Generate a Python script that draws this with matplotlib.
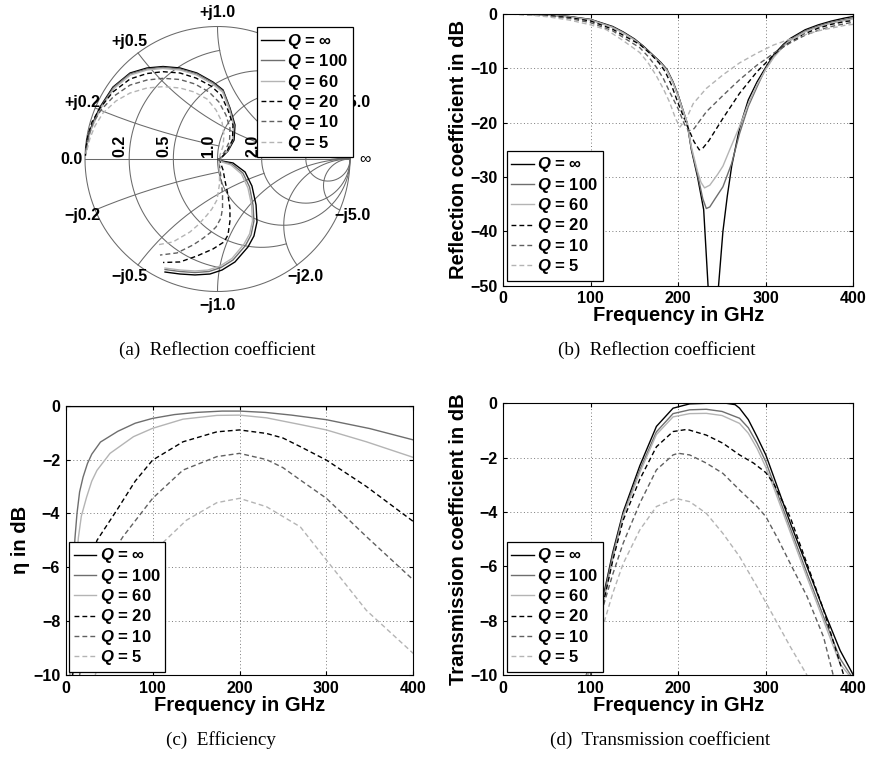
import numpy as np
import matplotlib
matplotlib.use('Agg')
import matplotlib.pyplot as plt

plt.rcParams['font.family'] = ['Liberation Sans', 'DejaVu Sans']
plt.rcParams['font.weight'] = 'bold'
plt.rcParams['axes.labelweight'] = 'bold'
plt.rcParams['mathtext.fontset'] = 'custom'
plt.rcParams['mathtext.it'] = 'Liberation Sans:italic:bold'
plt.rcParams['mathtext.rm'] = 'Liberation Sans:bold'
plt.rcParams['mathtext.bf'] = 'Liberation Sans:bold'

# legend entries, shared by all four panels
q_labels = [r'$Q$ = ∞', r'$Q$ = 100', r'$Q$ = 60', r'$Q$ = 20', r'$Q$ = 10', r'$Q$ = 5']
q_colors = ['#000000', '#6e6e6e', '#b4b4b4', '#000000', '#606060', '#b4b4b4']
q_dashed = [False, False, False, True, True, True]

# (a) reflection coefficient on the Smith chart (real / imaginary part of Gamma)
smith_re_inf = [-0.996, -0.985, -0.962, -0.925, -0.887, -0.789, -0.660, -0.532, -0.411, -0.283, -0.155,
                -0.034, 0.042, 0.094, 0.132, 0.125, 0.079, 0.034, 0.004, 0.034, 0.117, 0.208, 0.260,
                0.291, 0.298, 0.275, 0.230, 0.132, 0.034, -0.057, -0.170, -0.283, -0.396]
smith_im_inf = [0.030, 0.143, 0.219, 0.309, 0.392, 0.543, 0.649, 0.687, 0.698, 0.687, 0.649,
                0.581, 0.521, 0.385, 0.257, 0.143, 0.060, 0.015, -0.004, -0.015, -0.030, -0.098, -0.204,
                -0.347, -0.475, -0.581, -0.664, -0.777, -0.838, -0.868, -0.875, -0.868, -0.853]
smith_re_100 = [-0.995, -0.981, -0.958, -0.921, -0.883, -0.785, -0.660, -0.532, -0.411, -0.283, -0.155,
                -0.034, 0.042, 0.091, 0.125, 0.117, 0.075, 0.034, 0.008, 0.034, 0.109, 0.192, 0.242,
                0.268, 0.275, 0.253, 0.211, 0.117, 0.026, -0.064, -0.170, -0.283, -0.396]
smith_im_100 = [0.045, 0.143, 0.219, 0.309, 0.389, 0.540, 0.642, 0.679, 0.691, 0.679, 0.642,
                0.574, 0.513, 0.385, 0.257, 0.143, 0.060, 0.015, -0.004, -0.019, -0.038, -0.106, -0.211,
                -0.347, -0.468, -0.574, -0.653, -0.762, -0.819, -0.849, -0.857, -0.849, -0.834]
smith_re_60 = [-0.992, -0.977, -0.955, -0.917, -0.879, -0.781, -0.657, -0.532, -0.411, -0.283, -0.158,
               -0.038, 0.038, 0.087, 0.121, 0.113, 0.072, 0.034, 0.011, 0.034, 0.102, 0.181, 0.230,
               0.257, 0.264, 0.242, 0.200, 0.109, 0.019, -0.072, -0.170, -0.283, -0.396]
smith_im_60 = [0.045, 0.143, 0.219, 0.306, 0.385, 0.532, 0.634, 0.672, 0.683, 0.672, 0.634,
               0.566, 0.506, 0.381, 0.257, 0.143, 0.060, 0.015, -0.004, -0.023, -0.045, -0.113, -0.219,
               -0.347, -0.468, -0.566, -0.642, -0.751, -0.808, -0.838, -0.845, -0.838, -0.823]
smith_re_20 = [-0.992, -0.977, -0.947, -0.887, -0.789, -0.660, -0.532, -0.411, -0.283, -0.162, -0.049,
               0.026, 0.079, 0.117, 0.113, 0.072, 0.034, 0.011, 0.026, 0.042, 0.057, 0.079, 0.094,
               0.094, 0.079, 0.049, -0.034, -0.155, -0.283, -0.411]
smith_im_20 = [0.083, 0.181, 0.279, 0.385, 0.506, 0.604, 0.645, 0.659, 0.649, 0.611, 0.551,
               0.483, 0.370, 0.257, 0.143, 0.060, 0.015, -0.004, -0.038, -0.083, -0.166, -0.272, -0.370,
               -0.468, -0.574, -0.626, -0.679, -0.732, -0.777, -0.781]
smith_re_10 = [-0.989, -0.970, -0.940, -0.879, -0.781, -0.660, -0.532, -0.411, -0.283, -0.170, -0.064,
               0.011, 0.064, 0.094, 0.091, 0.057, 0.026, 0.011, 0.011, 0.019, 0.030, 0.038, 0.038,
               0.026, -0.011, -0.057, -0.117, -0.185, -0.306, -0.434]
smith_im_10 = [0.068, 0.181, 0.272, 0.370, 0.475, 0.558, 0.596, 0.609, 0.600, 0.566, 0.506,
               0.430, 0.332, 0.234, 0.136, 0.060, 0.015, -0.004, -0.015, -0.083, -0.174, -0.272, -0.370,
               -0.445, -0.513, -0.558, -0.604, -0.649, -0.709, -0.725]
smith_re_5 = [-0.985, -0.962, -0.925, -0.864, -0.766, -0.660, -0.532, -0.411, -0.283, -0.177, -0.079,
              -0.011, 0.034, 0.049, 0.042, 0.019, 0.011, 0.011, 0.015, 0.015, -0.004, -0.042, -0.079,
              -0.147, -0.208, -0.336, -0.457]
smith_im_5 = [0.068, 0.158, 0.249, 0.347, 0.438, 0.498, 0.536, 0.546, 0.536, 0.506, 0.453,
              0.370, 0.279, 0.181, 0.098, 0.030, 0.000, -0.023, -0.098, -0.189, -0.309, -0.377, -0.423,
              -0.498, -0.551, -0.626, -0.649]

# (b) reflection coefficient in dB
refl_f_inf = [0, 25, 50, 75, 100, 125, 137, 150, 160, 170, 180, 187, 194, 200, 205, 210, 215, 222, 229,
              234, 237, 243, 246, 251, 256, 261, 270, 280, 290, 300, 309, 320, 328, 345, 360, 375, 390, 400]
refl_db_inf = [0, -0.05, -0.15, -0.45, -1.0, -2.3, -3.3, -4.6, -5.9, -7.4, -8.9, -10.2, -12.5, -15.0, -17.5,
               -20.0, -25.0, -30.0, -36.0, -50.0, -62.0, -62.0, -50.0, -40.0, -33.5, -28.0, -21.0, -15.8,
               -12.5, -9.8, -7.5, -5.6, -4.5, -2.9, -2.0, -1.3, -0.75, -0.45]
refl_f_100 = [0, 25, 50, 75, 100, 125, 137, 150, 160, 170, 180, 187, 194, 200, 205, 210, 215, 222, 228,
              232, 236, 242, 251, 261, 270, 280, 290, 299, 309, 320, 328, 345, 360, 375, 390, 400]
refl_db_100 = [0, -0.05, -0.17, -0.5, -1.05, -2.4, -3.4, -4.7, -6.0, -7.5, -9.0, -10.3, -12.6, -15.1, -17.6,
               -20.0, -24.8, -29.5, -34.0, -35.8, -35.5, -34.0, -31.8, -27.5, -22.0, -17.0, -13.4, -10.3,
               -7.8, -5.8, -4.7, -3.1, -2.2, -1.5, -1.0, -0.7]
refl_f_60 = [0, 25, 50, 75, 100, 125, 137, 150, 160, 170, 180, 187, 194, 200, 205, 210, 215, 222, 226,
             230, 236, 245, 251, 260, 270, 280, 290, 300, 309, 320, 328, 345, 360, 375, 390, 400]
refl_db_60 = [0, -0.06, -0.2, -0.55, -1.1, -2.5, -3.5, -4.8, -6.1, -7.6, -9.1, -10.4, -12.7, -15.2, -17.6,
              -20.0, -24.5, -29.0, -31.0, -32.0, -31.5, -29.5, -28.0, -24.5, -20.7, -16.5, -13.0, -10.2,
              -8.0, -6.0, -4.9, -3.3, -2.4, -1.7, -1.2, -0.9]
refl_f_20 = [0, 25, 50, 75, 100, 125, 137, 156, 168, 178, 185, 192, 200, 210, 218, 224, 228, 235, 251,
             270, 290, 300, 309, 320, 328, 345, 360, 375, 390, 400]
refl_db_20 = [0, -0.08, -0.25, -0.65, -1.3, -2.8, -3.9, -5.6, -7.3, -9.0, -10.6, -13.0, -16.5, -20.5, -23.5,
              -25.0, -24.7, -23.3, -19.2, -14.6, -10.6, -9.0, -7.5, -6.0, -5.2, -3.6, -2.6, -1.9, -1.4, -1.2]
refl_f_10 = [0, 25, 50, 75, 100, 125, 137, 156, 166, 175, 183, 190, 200, 207, 212, 218, 232, 251, 270,
             290, 300, 309, 328, 345, 360, 375, 390, 400]
refl_db_10 = [0, -0.1, -0.35, -0.8, -1.6, -3.1, -4.3, -6.2, -7.9, -9.8, -11.9, -14.3, -17.5, -20.3, -21.5,
              -21.1, -18.0, -15.0, -12.1, -9.4, -8.3, -7.2, -5.3, -3.9, -3.0, -2.3, -1.8, -1.5]
refl_f_5 = [0, 25, 50, 75, 100, 118, 137, 156, 166, 175, 183, 190, 197, 202, 210, 217, 232, 251, 270,
            290, 309, 328, 345, 360, 375, 390, 400]
refl_db_5 = [0, -0.12, -0.5, -1.1, -2.0, -2.9, -4.9, -7.1, -9.1, -11.4, -13.8, -16.2, -19.3, -20.8, -19.0,
             -16.5, -13.7, -11.2, -9.0, -7.2, -5.7, -4.6, -3.8, -3.1, -2.6, -2.1, -1.9]

# (c) efficiency in dB
eff_f_inf = [0, 400]
eff_db_inf = [0, 0]
eff_f_100 = [5, 7, 9, 10.7, 13, 16, 20, 25, 30, 40, 60, 80, 100, 125, 150, 180, 200, 230, 260, 300, 350, 400]
eff_db_100 = [-10, -7.3, -5.7, -4.9, -4.0, -3.2, -2.65, -2.15, -1.8, -1.35, -0.95, -0.65, -0.47, -0.33,
              -0.25, -0.2, -0.2, -0.25, -0.35, -0.52, -0.85, -1.27]
eff_f_60 = [5.8, 7.5, 9.6, 12, 14.6, 18, 24, 30, 36, 51, 78, 100, 135, 174, 200, 231, 270, 300, 346, 400]
eff_db_60 = [-10, -8.5, -7.3, -5.9, -4.9, -4.1, -3.4, -2.8, -2.4, -1.77, -1.15, -0.84, -0.5, -0.36, -0.35,
             -0.45, -0.7, -0.9, -1.34, -1.92]
eff_f_20 = [8, 15, 25, 36, 59, 80, 100, 135, 174, 200, 231, 250, 270, 300, 346, 400]
eff_db_20 = [-10, -8.0, -6.2, -5.0, -3.87, -2.8, -2.02, -1.34, -0.97, -0.9, -1.03, -1.2, -1.52, -2.02, -3.0, -4.3]
eff_f_10 = [16, 30, 45, 66, 100, 135, 174, 200, 231, 250, 270, 300, 346, 400]
eff_db_10 = [-10, -7.5, -5.9, -4.86, -3.44, -2.39, -1.89, -1.77, -2.0, -2.3, -2.76, -3.44, -4.86, -6.47]
eff_f_5 = [34, 50, 75, 100, 113, 139, 174, 200, 231, 270, 300, 346, 400]
eff_db_5 = [-10, -8.3, -6.6, -5.5, -5.05, -4.25, -3.6, -3.44, -3.75, -4.5, -5.73, -7.6, -9.2]

# (d) transmission coefficient in dB
trans_f_inf = [95, 105, 115, 125, 137, 156, 175, 194, 213, 232, 255, 265, 270, 280, 290, 300, 309, 328,
               347, 366, 385, 400]
trans_db_inf = [-10, -8.6, -7.0, -5.5, -4.0, -2.3, -0.85, -0.18, -0.02, 0, 0, -0.05, -0.18, -0.6, -1.23,
                -1.9, -2.7, -4.4, -6.0, -7.6, -9.1, -10]
trans_f_100 = [95, 105, 115, 125, 137, 156, 175, 194, 213, 232, 250, 270, 280, 290, 300, 309, 328, 347,
               366, 385, 397]
trans_db_100 = [-10, -8.7, -7.1, -5.6, -4.1, -2.45, -1.05, -0.38, -0.24, -0.22, -0.3, -0.55, -0.9, -1.47,
                -2.15, -2.94, -4.6, -6.25, -7.85, -9.4, -10]
trans_f_60 = [96, 106, 116, 126, 137, 156, 175, 194, 213, 232, 250, 270, 280, 290, 300, 309, 328, 347,
              366, 385, 395]
trans_db_60 = [-10, -8.7, -7.1, -5.6, -4.15, -2.55, -1.15, -0.5, -0.38, -0.37, -0.45, -0.74, -1.1, -1.66,
               -2.35, -3.1, -4.75, -6.4, -8.0, -9.6, -10]
trans_f_20 = [100, 114, 125, 137, 156, 175, 194, 210, 232, 251, 270, 286, 300, 309, 328, 347, 366, 379, 389]
trans_db_20 = [-10, -7.4, -5.8, -4.3, -2.8, -1.6, -1.04, -0.96, -1.17, -1.47, -1.9, -2.2, -2.55, -2.95,
               -4.2, -5.9, -7.6, -8.96, -10]
trans_f_10 = [100, 113, 125, 137, 156, 175, 194, 200, 213, 232, 251, 270, 290, 300, 314, 328, 347, 366, 377]
trans_db_10 = [-10, -7.6, -6.3, -5.15, -3.68, -2.45, -1.9, -1.84, -1.9, -2.2, -2.58, -3.19, -3.8, -4.17,
               -5.0, -5.9, -7.1, -8.6, -10]
trans_f_5 = [97, 113, 125, 137, 156, 175, 197, 213, 232, 251, 270, 290, 309, 328, 347]
trans_db_5 = [-10, -8.3, -7.0, -5.9, -4.66, -3.8, -3.5, -3.62, -4.05, -4.79, -5.64, -6.75, -7.85, -8.96, -10]

smith_series = [(smith_re_inf, smith_im_inf), (smith_re_100, smith_im_100), (smith_re_60, smith_im_60),
                (smith_re_20, smith_im_20), (smith_re_10, smith_im_10), (smith_re_5, smith_im_5)]
refl_series = [(refl_f_inf, refl_db_inf), (refl_f_100, refl_db_100), (refl_f_60, refl_db_60),
               (refl_f_20, refl_db_20), (refl_f_10, refl_db_10), (refl_f_5, refl_db_5)]
eff_series = [(eff_f_inf, eff_db_inf), (eff_f_100, eff_db_100), (eff_f_60, eff_db_60),
              (eff_f_20, eff_db_20), (eff_f_10, eff_db_10), (eff_f_5, eff_db_5)]
trans_series = [(trans_f_inf, trans_db_inf), (trans_f_100, trans_db_100), (trans_f_60, trans_db_60),
                (trans_f_20, trans_db_20), (trans_f_10, trans_db_10), (trans_f_5, trans_db_5)]

W, H = 874, 757
fig = plt.figure(figsize=(W / 100, H / 100), dpi=100)


def px_axes(left, top, right, bottom):
    return fig.add_axes([left / W, 1 - bottom / H, (right - left) / W, (bottom - top) / H])


def style_kw(i):
    kw = dict(color=q_colors[i], lw=1.0)
    if q_dashed[i]:
        kw['linestyle'] = (0, (3.5, 2.2))
    return kw


def add_legend(ax, handles, x, y):
    leg = ax.legend(handles, q_labels, loc='upper left', bbox_to_anchor=(x / W, 1 - y / H),
                    bbox_transform=fig.transFigure, borderaxespad=0, fancybox=False, framealpha=1,
                    edgecolor='black', fontsize=12, handlelength=1.35, handletextpad=0.2,
                    labelspacing=0.08, borderpad=0.28)
    leg.get_frame().set_linewidth(0.9)
    leg.set_zorder(10)


def gamma(z):
    return (z - 1) / (z + 1)


# ---------- (a) Smith chart ----------
ax = px_axes(217.5 - 1.3 * 132.5, 159 - 1.18 * 132.5, 217.5 + 1.3 * 132.5, 159 + 1.18 * 132.5)
ax.set_xlim(-1.3, 1.3)
ax.set_ylim(-1.18, 1.18)
ax.axis('off')
gc = '#6a6a6a'
glw = 0.75
t = np.linspace(0, 2 * np.pi, 600)
ax.plot(np.cos(t), np.sin(t), color=gc, lw=glw)
ax.plot([-1, 1], [0, 0], color=gc, lw=glw)
grid_vals = [0.2, 0.5, 1.0, 2.0, 5.0]
grid_lims = [1.0, 2.0, np.inf, np.inf, np.inf]
for v, lim in zip(grid_vals, grid_lims):
    a = np.pi / 2 - 1e-4 if np.isinf(lim) else np.arctan(lim)
    xs = np.tan(np.linspace(-a, a, 500))
    g = gamma(v + 1j * xs)
    ax.plot(g.real, g.imag, color=gc, lw=glw)
    rs = np.tan(np.linspace(0, a, 500))
    for s in (1, -1):
        g = gamma(rs + 1j * s * v)
        ax.plot(g.real, g.imag, color=gc, lw=glw)

# grid labels (+j2.0, +j5.0 and 5.0 sit partly under the legend, as in the original)
lab_kw = dict(fontsize=11.5, fontweight='bold', ha='center', va='center')
for v in grid_vals:
    for s, sign in ((1, '+'), (-1, '\u2212')):
        g = gamma(1j * s * v)
        ax.text(1.105 * g.real, 1.105 * g.imag, f'{sign}j{v:.1f}', **lab_kw)
    gr = (v - 1) / (v + 1)
    ax.text(gr - 0.012, 0.015, f'{v:.1f}', rotation=90, fontsize=11.5, fontweight='bold',
            ha='right', va='bottom')
ax.text(-1.105, 0, '0.0', **lab_kw)
ax.text(1.11, 0, '∞', fontsize=11.5, fontweight='normal', ha='center', va='center')

handles = []
for i, (re, im) in enumerate(smith_series):
    h, = ax.plot(re, im, zorder=4, **style_kw(i))
    handles.append(h)
add_legend(ax, handles, 256.7, 27.3)


def rect_panel(left, top, right, bottom, series, ylim, yticks, ylabel, leg_xy):
    ax = px_axes(left, top, right, bottom)
    hs = []
    for i, (f, d) in enumerate(series):
        h, = ax.plot(f, d, **style_kw(i))
        hs.append(h)
    ax.set_xlim(0, 400)
    ax.set_ylim(*ylim)
    ax.set_xticks([0, 100, 200, 300, 400])
    ax.set_yticks(yticks)
    ax.grid(True, color='#7a7a7a', linestyle=(0, (1, 2.5)), lw=0.7)
    ax.tick_params(direction='in', length=3, labelsize=11.5, top=True, right=True, pad=4)
    for lab in ax.get_xticklabels() + ax.get_yticklabels():
        lab.set_fontweight('bold')
    for sp in ax.spines.values():
        sp.set_linewidth(0.8)
    ax.set_xlabel('Frequency in GHz', fontsize=14.5, fontweight='bold', labelpad=0)
    ax.set_ylabel(ylabel, fontsize=14.5, fontweight='bold', labelpad=2)
    add_legend(ax, hs, *leg_xy)
    return ax


rect_panel(503.3, 14, 853.3, 285.7, refl_series, (-50, 0), [-50, -40, -30, -20, -10, 0],
           'Reflection coefficient in dB', (506.7, 150.7))
rect_panel(65.7, 405.7, 413.3, 675, eff_series, (-10, 0), [-10, -8, -6, -4, -2, 0],
           'η in dB', (69.3, 541.7))
rect_panel(503.3, 403.3, 853.3, 675, trans_series, (-10, 0), [-10, -8, -6, -4, -2, 0],
           'Transmission coefficient in dB', (506.7, 541.7))

cap_kw = dict(family='Liberation Serif', fontweight='normal', fontsize=13.8, ha='center', va='center')
fig.text(217 / W, 1 - 350 / H, '(a)  Reflection coefficient', **cap_kw)
fig.text(657 / W, 1 - 350 / H, '(b)  Reflection coefficient', **cap_kw)
fig.text(221 / W, 1 - 740 / H, '(c)  Efficiency', **cap_kw)
fig.text(660 / W, 1 - 740 / H, '(d)  Transmission coefficient', **cap_kw)

fig.savefig('out.png', dpi=100)
